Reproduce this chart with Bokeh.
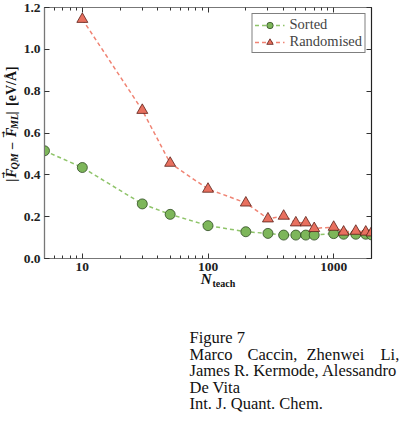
import math
from bokeh.plotting import figure
from bokeh.layouts import column, row
from bokeh.models import (ColumnDataSource, Range1d, LogAxis, LinearAxis, FixedTicker,
                          Legend, LegendItem, PrintfTickFormatter)
from bokeh.core.properties import value
from bokeh.embed import file_html
from bokeh.resources import INLINE

# ---- data ----
n_sorted = [5, 10, 30, 50, 100, 200, 300, 400, 500, 600, 700, 1000, 1200, 1500, 1800, 2000]
err_sorted = [0.515, 0.435, 0.261, 0.211, 0.157, 0.128, 0.120, 0.112, 0.112, 0.112, 0.112,
              0.119, 0.116, 0.116, 0.116, 0.113]
n_rand = [10, 30, 50, 100, 200, 300, 400, 500, 600, 700, 1000, 1200, 1500, 1800, 2000]
err_rand = [1.144, 0.709, 0.456, 0.332, 0.266, 0.190, 0.203, 0.171, 0.171, 0.144, 0.150,
            0.127, 0.131, 0.127, 0.123]
x_ticks = [10, 100, 1000]
x_tick_labels = {10: "10", 100: "100", 1000: "1000"}
y_ticks = [0.0, 0.2, 0.4, 0.6, 0.8, 1.0, 1.2]
series_labels = ["Sorted", "Randomised"]
caption_title = "Figure 7"
caption_authors_1 = ["Marco", "Caccin,", "Zhenwei", "Li,"]
caption_rest = ["James R. Kermode, Alessandro", "De Vita", "Int.  J.  Quant.  Chem."]

SERIF = "Liberation Serif"
GREEN_FILL = "#7db65a"
GREEN_LINE = "#8fc46a"
RED_FILL = "#e8705f"
RED_LINE = "#f08474"
INK = "#111111"

W, H = 400, 432
YLAB_W = 20
MAIN_H = 278
OVERLAP = 12
minor = [m * d for d in [1, 10, 100, 1000] for m in range(2, 10)]

# ---------------- main plot ----------------
p = figure(width=W - YLAB_W, height=MAIN_H, x_axis_type="log", output_backend="svg",
           toolbar_location=None, x_range=Range1d(5, 2000), y_range=Range1d(0, 1.2),
           min_border_left=24, min_border_right=29, min_border_top=7, min_border_bottom=20)
p.grid.visible = False
p.outline_line_color = "#333333"
p.outline_line_width = 1.2

src_s = ColumnDataSource(dict(x=n_sorted, y=err_sorted))
src_r = ColumnDataSource(dict(x=n_rand, y=err_rand))

ls = p.line("x", "y", source=src_s, line_color=GREEN_LINE, line_width=1.5, line_dash="4 3")
ss = p.scatter("x", "y", source=src_s, marker="circle", size=10, fill_color=GREEN_FILL,
               line_color="#2f4a22", line_width=0.8)
lr = p.line("x", "y", source=src_r, line_color=RED_LINE, line_width=1.5, line_dash="4 3")
sr = p.scatter("x", "y", source=src_r, marker="triangle", size=11, fill_color=RED_FILL,
               line_color="#5a2018", line_width=0.8)


def style_axis(ax, labels=True):
    ax.axis_line_color = "#777777"
    ax.major_tick_in = 5
    ax.major_tick_out = 0
    ax.minor_tick_in = 3
    ax.minor_tick_out = 0
    ax.major_tick_line_color = "#333333"
    ax.minor_tick_line_color = "#333333"
    ax.major_label_text_font = SERIF
    ax.major_label_text_font_style = "bold"
    ax.major_label_text_font_size = "13.5px"
    ax.major_label_text_color = "#222222"
    ax.major_label_standoff = 4
    if not labels:
        ax.major_label_text_font_size = "0px"
        ax.major_label_standoff = 0


xa = p.xaxis[0]
xa.ticker = FixedTicker(ticks=x_ticks, minor_ticks=minor)
xa.major_label_overrides = x_tick_labels
style_axis(xa)
ya = p.yaxis[0]
ya.ticker = FixedTicker(ticks=y_ticks)
ya.formatter = PrintfTickFormatter(format="%.1f")
style_axis(ya)
ya.minor_tick_line_color = None

top = LogAxis(ticker=FixedTicker(ticks=x_ticks, minor_ticks=minor))
style_axis(top, labels=False)
top.major_label_overrides = {t: "" for t in x_ticks}
p.add_layout(top, "above")
right = LinearAxis(ticker=FixedTicker(ticks=y_ticks))
style_axis(right, labels=False)
right.major_label_overrides = {t: "" for t in y_ticks}
right.minor_tick_line_color = None
right.axis_line_color = "#222222"
p.add_layout(right, "right")

legend = Legend(items=[LegendItem(label=series_labels[0], renderers=[ls, ss]),
                       LegendItem(label=series_labels[1], renderers=[lr, sr])],
                location="top_right")
legend.label_text_font = SERIF
legend.label_text_font_size = "14.5px"
legend.border_line_color = "black"
legend.border_line_width = 1
legend.margin = 6
legend.padding = 2
legend.spacing = 0
legend.glyph_width = 30
legend.label_height = 16
legend.glyph_height = 16
p.add_layout(legend)


# ---------------- helper text panels ----------------
def text_panel(w, h):
    f = figure(width=w, height=h, output_backend="svg", toolbar_location=None,
               x_range=Range1d(0, w), y_range=Range1d(0, h),
               min_border=0, min_border_left=0, min_border_right=0,
               min_border_top=0, min_border_bottom=0)
    f.axis.visible = False
    f.grid.visible = False
    f.outline_line_color = None
    f.background_fill_alpha = 0
    f.border_fill_alpha = 0
    return f


def put(f, h, off_y, txt, px, py, size, style, angle=0.0, align="left", baseline="middle",
        font=SERIF):
    # px, py: page pixel position; converted to the panel's data coords
    f.text(x=[px], y=[h - (py - off_y)], text=[txt], text_font=value(font),
           text_font_size=size, text_font_style=style, text_color=INK, angle=angle,
           text_align=align, text_baseline=baseline)


# y-axis label panel (left of main plot); text runs upward from each anchor
yl = text_panel(YLAB_W, MAIN_H)
A = math.pi / 2
X = 11
pieces = [  # (text, start y, x offset, size, style)
    ("|", 193, 0, "14px", "bold"),
    ("F", 188.5, 0, "14px", "bold italic"),
    ("QM", 179.5, 3, "10px", "bold italic"),
    ("\u2212", 157.5, 0, "14px", "bold"),
    ("F", 143.5, 0, "14px", "bold italic"),
    ("ML", 134.5, 3, "10px", "bold italic"),
    ("|", 118.5, 0, "14px", "bold"),
    ("[eV/\u00c5]", 109, 0, "14px", "bold"),
]
for t, y0, dx, sz, st in pieces:
    put(yl, MAIN_H, 0, t, X + dx, y0, sz, st, A)
# vector arrows over the two F's
put(yl, MAIN_H, 0, "\u2192", X - 8, 189, "8px", "bold", A, font="DejaVu Sans")
put(yl, MAIN_H, 0, "\u2192", X - 8, 144, "8px", "bold", A, font="DejaVu Sans")

# bottom panel: x-axis label and caption (pulled up to overlap the main plot's border)
BOT_TOP = MAIN_H - OVERLAP
BH = H - BOT_TOP
bt = text_panel(W, BH)
bt.margin = (-OVERLAP, 0, 0, 0)
put(bt, BH, BOT_TOP, "N", 211, 278.5, "15px", "bold italic", 0.0, "right", "middle")
put(bt, BH, BOT_TOP, "teach", 212, 282.5, "10px", "bold", 0.0, "left", "middle")

ys = [337, 354, 370, 387, 403]
put(bt, BH, BOT_TOP, caption_title, 189, ys[0], "16.5px", "normal")
for wd, xx in zip(caption_authors_1, [189, 247, 306, 380]):
    put(bt, BH, BOT_TOP, wd, xx, ys[1], "16.5px", "normal")
for t, yy in zip(caption_rest, ys[2:]):
    put(bt, BH, BOT_TOP, t, 189, yy, "16.5px", "normal")

layout = column(row(yl, p, spacing=0), bt, spacing=0)
open("out.html", "w").write(file_html(layout, INLINE))
